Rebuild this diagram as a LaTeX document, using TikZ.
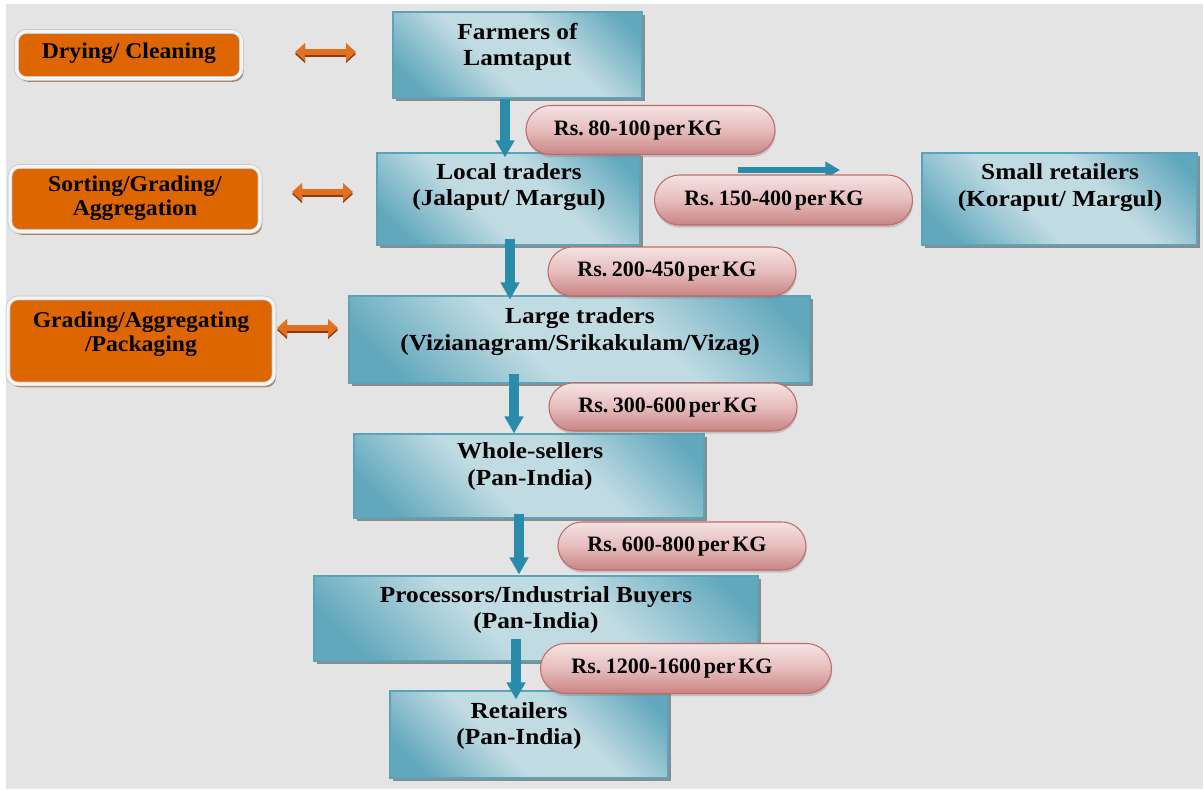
\documentclass[tikz,border=0pt]{standalone}
\usepackage{fontspec}
\setmainfont{Liberation Serif}
\newfontfamily\boxfont{Liberation Serif}[FakeStretch=1.1]
\newfontfamily\orfont{Liberation Serif}[FakeStretch=1.05]
\usetikzlibrary{arrows.meta,shadows,shapes.misc}
\definecolor{bgG}{HTML}{E4E4E4}
\definecolor{tealD}{HTML}{62A8BD}
\definecolor{tealL}{HTML}{C0DBE2}
\definecolor{tealB}{HTML}{5AA3B8}
\definecolor{arrT}{HTML}{2A8BAA}
\definecolor{arrTL}{HTML}{4FA7C2}
\definecolor{orF}{HTML}{DE6600}
\definecolor{orR}{HTML}{F4F4F4}
\definecolor{orE}{HTML}{C4C4C4}
\definecolor{orS}{HTML}{9A6A50}
\definecolor{orA}{HTML}{E2701E}
\definecolor{orAD}{HTML}{8E3A0E}
\definecolor{pinkT}{HTML}{F5E3E3}
\definecolor{pinkM}{HTML}{E6BCBC}
\definecolor{pinkB}{HTML}{C98484}
\definecolor{pinkE}{HTML}{C26A6A}
\pgfdeclarehorizontalshading{tealband}{100bp}{color(0bp)=(tealD); color(22bp)=(tealD); color(42bp)=(tealL); color(60bp)=(tealL); color(80bp)=(tealD); color(100bp)=(tealD)}
\newcommand\tightsp{\spaceskip=0.12em\relax}
\begin{document}
\begin{tikzpicture}[x=0.75pt,y=-0.75pt,
  sz/.style 2 args={minimum width=#1*0.75pt, minimum height=#2*0.75pt},
  tbox/.style={rectangle, draw=tealB, line width=0.8pt, shading=tealband, shade, shading angle=45,
    drop shadow={shadow xshift=2.2pt, shadow yshift=-2.5pt, fill=black!60, opacity=0.7}, inner sep=0pt},
  ttxt/.style={font={\boxfont\bfseries\fontsize{17.25pt}{19.9pt}\selectfont}, align=center, inner sep=0pt},
  obox/.style={rectangle, rounded corners=7.5pt, fill=orF, draw=orE, line width=0.5pt, double=orR, double distance=2.4pt,
    drop shadow={shadow xshift=1.5pt, shadow yshift=-2.5pt, fill=orS, opacity=0.8}, inner sep=0pt},
  otxt/.style={font={\orfont\bfseries\fontsize{16.9pt}{18pt}\selectfont}, align=center, inner sep=0pt},
  pill/.style={rounded rectangle, draw=pinkE, line width=0.8pt, top color=pinkT, bottom color=pinkB, middle color=pinkM,
    drop shadow={shadow xshift=0.5pt, shadow yshift=-2pt, fill=black!50, opacity=0.35}, inner sep=0pt},
  ptxt/.style={font={\bfseries\fontsize{16.5pt}{18pt}\selectfont\tightsp}, inner sep=0pt},
  darr/.style={draw=arrT, line width=7pt, -{Triangle[length=12.75pt,width=13.5pt]}},
  rarr/.style={draw=arrT, line width=5.2pt, -{Triangle[length=11pt,width=12pt]}},
  dbl/.style={line width=4.4pt, {Triangle[length=7.5pt,width=13pt]}-{Triangle[length=7.5pt,width=13pt]}},
]
\useasboundingbox (0,0) rectangle (1203,789);
\fill[white] (0,0) rectangle (1203,789);
\fill[bgG] (6,4) rectangle (1203,789);

% orange side boxes
\node[obox, sz={225}{47}] (o1) at (129,55) {};
\node[otxt] (o1t) at (129,53) {Drying/ Cleaning};
\node[obox, sz={250}{65}] (o2) at (135,199) {};
\node[otxt] (o2t) at (135,198) {Sorting/Grading/\\Aggregation};
\node[obox, sz={266}{86}] (o3) at (141,341) {};
\node[otxt] (o3t) at (141,334) {Grading/Aggregating\\/Packaging};

% double arrows
\coordinate (d1a) at (295,52);  \coordinate (d1b) at (356,52);
\coordinate (d2a) at (292,192); \coordinate (d2b) at (353,192);
\coordinate (d3a) at (277,328); \coordinate (d3b) at (338,328);
\foreach \a/\b in {d1a/d1b,d2a/d2b,d3a/d3b}{
  \draw[dbl, draw=orAD, fill=orAD] ([yshift=-1.5pt]\a) -- ([yshift=-1.5pt]\b);
  \draw[dbl, draw=orA, fill=orA] (\a) -- (\b);
}

% teal boxes
\node[tbox, sz={249}{86}] (farmers) at (517.5,55) {};
\node[ttxt] (farmers-t) at (517.5,47) {Farmers of\\Lamtaput};
\node[tbox, sz={263}{92}] (local) at (508.5,199) {};
\node[ttxt] (local-t) at (509,187) {Local traders\\(Jalaput/ Margul)};
\node[tbox, sz={275}{92}] (small) at (1059.5,199) {};
\node[ttxt] (small-t) at (1060,187.5) {Small retailers\\(Koraput/ Margul)};
\node[tbox, sz={461}{87}] (large) at (579.5,339.5) {};
\node[ttxt] (large-t) at (580,331.5) {Large traders\\(Vizianagram/Srikakulam/Vizag)};
\node[tbox, sz={350}{84}] (whole) at (529,476) {};
\node[ttxt] (whole-t) at (530,466.5) {Whole-sellers\\(Pan-India)};
\node[tbox, sz={444}{85}] (proc) at (536,618.5) {};
\node[ttxt] (proc-t) at (536,610) {Processors/Industrial Buyers\\(Pan-India)};
\node[tbox, sz={278}{87}] (retail) at (529,734.5) {};
\node[ttxt] (retail-t) at (519,726) {Retailers\\(Pan-India)};

% arrows
\coordinate (r1) at (738,170); \coordinate (r2) at (840,170);
\draw[rarr] (r1) -- (r2);
\coordinate (x1) at (505,0);
\coordinate (x2) at (510,0);
\coordinate (x3) at (514,0);
\coordinate (x4) at (519,0);
\coordinate (x5) at (516,0);
\draw[darr, shorten >=-3.75pt] (farmers.south -| x1) -- (local.north -| x1);
\draw[darr, shorten <=-5.25pt, shorten >=-3pt] (local.south -| x2) -- (large.north -| x2);
\draw[darr, shorten <=-7.5pt, shorten >=0pt] (large.south -| x3) -- (whole.north -| x3);
\draw[darr, shorten <=-3.75pt, shorten >=0.75pt] (whole.south -| x4) -- (proc.north -| x4);
\draw[darr, shorten <=-17.25pt, shorten >=-6.75pt] (proc.south -| x5) -- (retail.north -| x5);

% price pills
\node[pill, sz={249}{49}] (p1) at (650.5,130) {};
\node[ptxt] (p1t) at (638,131) {Rs. 80-100 per KG};
\node[pill, sz={258}{50}] (p2) at (783.5,200) {};
\node[ptxt] (p2t) at (774,201) {Rs. 150-400 per KG};
\node[pill, sz={248}{49}] (p3) at (672,271.5) {};
\node[ptxt] (p3t) at (667,272) {Rs. 200-450 per KG};
\node[pill, sz={248}{48}] (p4) at (673,407) {};
\node[ptxt] (p4t) at (668,408) {Rs. 300-600 per KG};
\node[pill, sz={248}{48}] (p5) at (682,546) {};
\node[ptxt] (p5t) at (677,547) {Rs. 600-800 per KG};
\node[pill, sz={291}{50}] (p6) at (686,668.5) {};
\node[ptxt] (p6t) at (672,669) {Rs. 1200-1600 per KG};
\end{tikzpicture}
\end{document}
